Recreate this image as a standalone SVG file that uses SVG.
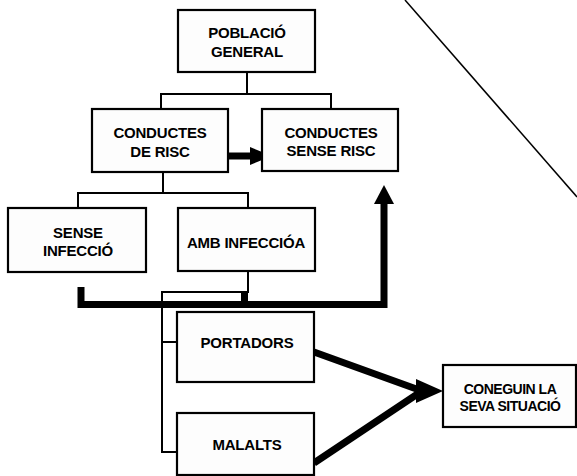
<svg xmlns="http://www.w3.org/2000/svg" width="577" height="476" viewBox="0 0 577 476">
<style>
.box{fill:#fdfdfd;stroke:#000;stroke-width:2.2}
.t{font-family:"Liberation Sans",Arial,sans-serif;font-weight:bold;font-size:15px;fill:#000;text-anchor:middle;letter-spacing:-0.2px}
.thin{fill:none;stroke:#000;stroke-width:2}
.thick{fill:none;stroke:#000;stroke-width:7;stroke-linejoin:miter}
</style>
<rect width="577" height="476" fill="#fff"/>
<line x1="405" y1="0" x2="577" y2="197" stroke="#000" stroke-width="1.5"/>
<g id="connectors">
<path class="thin" d="M247 72V94M161 109V94H331V109"/>
<path class="thin" d="M163 172V193M78 208V193H248V208"/>
<path class="thin" d="M248 271V292H162V452H177M162 342H177"/>
<rect x="241" y="292" width="7" height="12" fill="#000"/>
<path class="thick" d="M228 156H252"/>
<polygon points="250,147 272,156 250,165" fill="#000"/>
<path class="thick" d="M81 287V304.5H384V200"/>
<polygon points="374,204 384,185 394,204" fill="#000"/>
<path class="thick" d="M314 352L422 391M314 463L422 391" stroke-width="8"/>
<polygon points="416,379 443,391 416,403" fill="#000"/>
</g>
<g id="poblacio"><rect class="box" x="178" y="10" width="137" height="62"/><text class="t" x="247" y="38">POBLACIÓ</text><text class="t" x="247" y="57">GENERAL</text></g>
<g id="conductes-risc"><rect class="box" x="92" y="109" width="136" height="63"/><text class="t" x="160" y="138">CONDUCTES</text><text class="t" x="160" y="157">DE RISC</text></g>
<g id="conductes-sense-risc"><rect class="box" x="262" y="109" width="136" height="62"/><text class="t" x="331" y="138">CONDUCTES</text><text class="t" x="331" y="156">SENSE RISC</text></g>
<g id="sense-infeccio"><rect class="box" x="8" y="208" width="138" height="64"/><text class="t" x="78" y="238">SENSE</text><text class="t" x="78" y="256">INFECCIÓ</text></g>
<g id="amb-infeccio"><rect class="box" x="178" y="208" width="137" height="63"/><text class="t" x="246" y="248">AMB INFECCIÓA</text></g>
<g id="portadors"><rect class="box" x="177" y="312" width="137" height="70"/><text class="t" x="247" y="348">PORTADORS</text></g>
<g id="malalts"><rect class="box" x="177" y="413" width="137" height="62"/><text class="t" x="247" y="450">MALALTS</text></g>
<g id="coneguin"><rect class="box" x="443" y="365" width="133" height="62"/><text class="t" x="510" y="394" style="font-size:14px;letter-spacing:-0.5px">CONEGUIN LA</text><text class="t" x="510" y="411" style="font-size:14px;letter-spacing:-0.5px">SEVA SITUACIÓ</text></g>
</svg>
